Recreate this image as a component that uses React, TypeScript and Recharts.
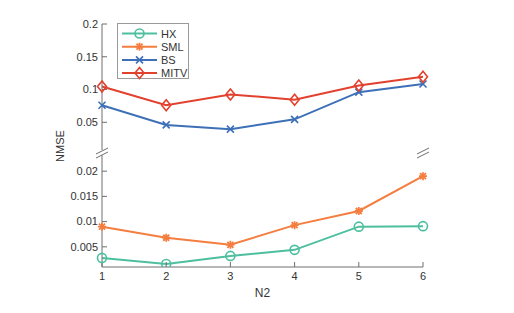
import React from "react";
import { LineChart, Line, XAxis, YAxis } from "recharts";

// N2 values on the x axis
const n2 = [1, 2, 3, 4, 5, 6];

// NMSE per method (lower panel: HX, SML; upper panel: BS, MITV)
const hx = [0.0028, 0.0016, 0.0032, 0.0044, 0.009, 0.0091];
const sml = [0.009, 0.0068, 0.0054, 0.0093, 0.0121, 0.019];
const bs = [0.076, 0.046, 0.0395, 0.0545, 0.096, 0.1085];
const mitv = [0.1045, 0.076, 0.0925, 0.0845, 0.106, 0.1195];

const upperTicks = [0.05, 0.1, 0.15, 0.2];
const lowerTicks = [0.005, 0.01, 0.015, 0.02];

const rows = n2.map((n, i) => ({ n, hx: hx[i], sml: sml[i], bs: bs[i], mitv: mitv[i] }));

const AXIS = "#6e6e6e";
const TEXT = "#333";
const FONT = "Arial, 'Liberation Sans', sans-serif";

const COLORS = {
  hx: "#4dbf9f",
  sml: "#f47d3f",
  bs: "#3e70b8",
  mitv: "#e2412e",
};

type Marker = "circle" | "star" | "x" | "diamond";

const drawMarker = (kind: Marker, color: string, cx: number, cy: number, key?: string) => {
  if (kind === "circle")
    return <circle key={key} cx={cx} cy={cy} r={4.5} fill="none" stroke={color} strokeWidth={1.6} />;
  if (kind === "diamond")
    return (
      <polygon
        key={key}
        points={`${cx},${cy - 5.5} ${cx + 4.5},${cy} ${cx},${cy + 5.5} ${cx - 4.5},${cy}`}
        fill="none"
        stroke={color}
        strokeWidth={1.6}
      />
    );
  if (kind === "x")
    return (
      <g key={key} stroke={color} strokeWidth={1.6}>
        <line x1={cx - 3.5} y1={cy - 3.5} x2={cx + 3.5} y2={cy + 3.5} />
        <line x1={cx - 3.5} y1={cy + 3.5} x2={cx + 3.5} y2={cy - 3.5} />
      </g>
    );
  return (
    <g key={key} stroke={color} strokeWidth={1.8}>
      <line x1={cx - 4} y1={cy} x2={cx + 4} y2={cy} />
      <line x1={cx} y1={cy - 4} x2={cx} y2={cy + 4} />
      <line x1={cx - 3} y1={cy - 3} x2={cx + 3} y2={cy + 3} />
      <line x1={cx - 3} y1={cy + 3} x2={cx + 3} y2={cy - 3} />
    </g>
  );
};

const dotFor = (kind: Marker, color: string) => (p: any) =>
  drawMarker(kind, color, p.cx, p.cy, `${kind}-${p.index}`);

const series: { key: keyof typeof COLORS; name: string; marker: Marker }[] = [
  { key: "hx", name: "HX", marker: "circle" },
  { key: "sml", name: "SML", marker: "star" },
  { key: "bs", name: "BS", marker: "x" },
  { key: "mitv", name: "MITV", marker: "diamond" },
];

const tickStyle = { fill: TEXT, fontSize: 11, fontFamily: FONT };

const LegendBox = () => (
  <div
    style={{
      position: "absolute",
      left: 117,
      top: 23,
      width: 72,
      height: 56,
      border: "1px solid #9a9a9a",
      background: "#fff",
      boxSizing: "border-box",
    }}
  >
    <svg width={72} height={56}>
      {series.map((s, i) => {
        const y = 9.5 + i * 13.2;
        return (
          <g key={s.key}>
            <line x1={4} y1={y} x2={39} y2={y} stroke={COLORS[s.key]} strokeWidth={2} />
            {drawMarker(s.marker, COLORS[s.key], 21.5, y)}
            <text x={43} y={y + 4} fontSize={11} fontFamily={FONT} fill={TEXT}>
              {s.name}
            </text>
          </g>
        );
      })}
    </svg>
  </div>
);

export default function App() {
  return (
    <div style={{ position: "absolute", left: 0, top: 0, width: 514, height: 313, background: "#fff" }}>
      {/* upper panel */}
      <div style={{ position: "absolute", left: 0, top: 0 }}>
        <LineChart width={514} height={150} data={rows} margin={{ top: 24, right: 91, bottom: 0, left: 62 }}>
          <XAxis
            dataKey="n"
            type="number"
            orientation="top"
            domain={[1, 6]}
            ticks={n2}
            height={0}
            stroke={AXIS}
            tickSize={-5}
            tickFormatter={() => ""}
          />
          <YAxis
            yAxisId="l"
            type="number"
            domain={[0.0077, 0.2]}
            ticks={upperTicks}
            width={40}
            stroke={AXIS}
            tickSize={-5}
            tickMargin={9}
            tick={tickStyle}
            allowDataOverflow
          />
          <YAxis
            yAxisId="r"
            orientation="right"
            type="number"
            domain={[0.0077, 0.2]}
            ticks={upperTicks}
            width={0}
            stroke={AXIS}
            tickSize={-5}
            tickFormatter={() => ""}
          />
          {series.slice(2).map((s) => (
            <Line
              key={s.key}
              yAxisId="l"
              dataKey={s.key}
              name={s.name}
              stroke={COLORS[s.key]}
              strokeWidth={2}
              dot={dotFor(s.marker, COLORS[s.key])}
              activeDot={false}
              isAnimationActive={false}
            />
          ))}
        </LineChart>
      </div>

      {/* lower panel */}
      <div style={{ position: "absolute", left: 0, top: 155 }}>
        <LineChart width={514} height={158} data={rows} margin={{ top: 0, right: 91, bottom: 6, left: 62 }}>
          <XAxis
            dataKey="n"
            type="number"
            domain={[1, 6]}
            ticks={n2}
            height={40}
            stroke={AXIS}
            tickSize={-5}
            tickMargin={10}
            tick={tickStyle}
            label={{ value: "N2", position: "insideBottom", offset: 10, fill: TEXT, fontSize: 12, fontFamily: FONT }}
          />
          <YAxis
            yAxisId="l"
            type="number"
            domain={[0.001, 0.0232]}
            ticks={lowerTicks}
            width={40}
            stroke={AXIS}
            tickSize={-5}
            tickMargin={9}
            tick={tickStyle}
            allowDataOverflow
          />
          <YAxis
            yAxisId="r"
            orientation="right"
            type="number"
            domain={[0.001, 0.0232]}
            ticks={lowerTicks}
            width={0}
            stroke={AXIS}
            tickSize={-5}
            tickFormatter={() => ""}
          />
          {series.slice(0, 2).map((s) => (
            <Line
              key={s.key}
              yAxisId="l"
              dataKey={s.key}
              name={s.name}
              stroke={COLORS[s.key]}
              strokeWidth={2}
              dot={dotFor(s.marker, COLORS[s.key])}
              activeDot={false}
              isAnimationActive={false}
            />
          ))}
        </LineChart>
      </div>

      {/* axis break marks + y label */}
      <svg width={514} height={313} style={{ position: "absolute", left: 0, top: 0, pointerEvents: "none" }}>
        {[102, 423].map((x) => (
          <g key={x} stroke={AXIS} strokeWidth={1}>
            <line x1={x - 6} y1={154} x2={x + 6} y2={148} />
            <line x1={x - 6} y1={158} x2={x + 6} y2={152} />
          </g>
        ))}
        <text
          x={0}
          y={0}
          transform="translate(64,146) rotate(-90)"
          textAnchor="middle"
          fontSize={11}
          fontFamily={FONT}
          fill={TEXT}
        >
          NMSE
        </text>
      </svg>

      <LegendBox />
    </div>
  );
}
